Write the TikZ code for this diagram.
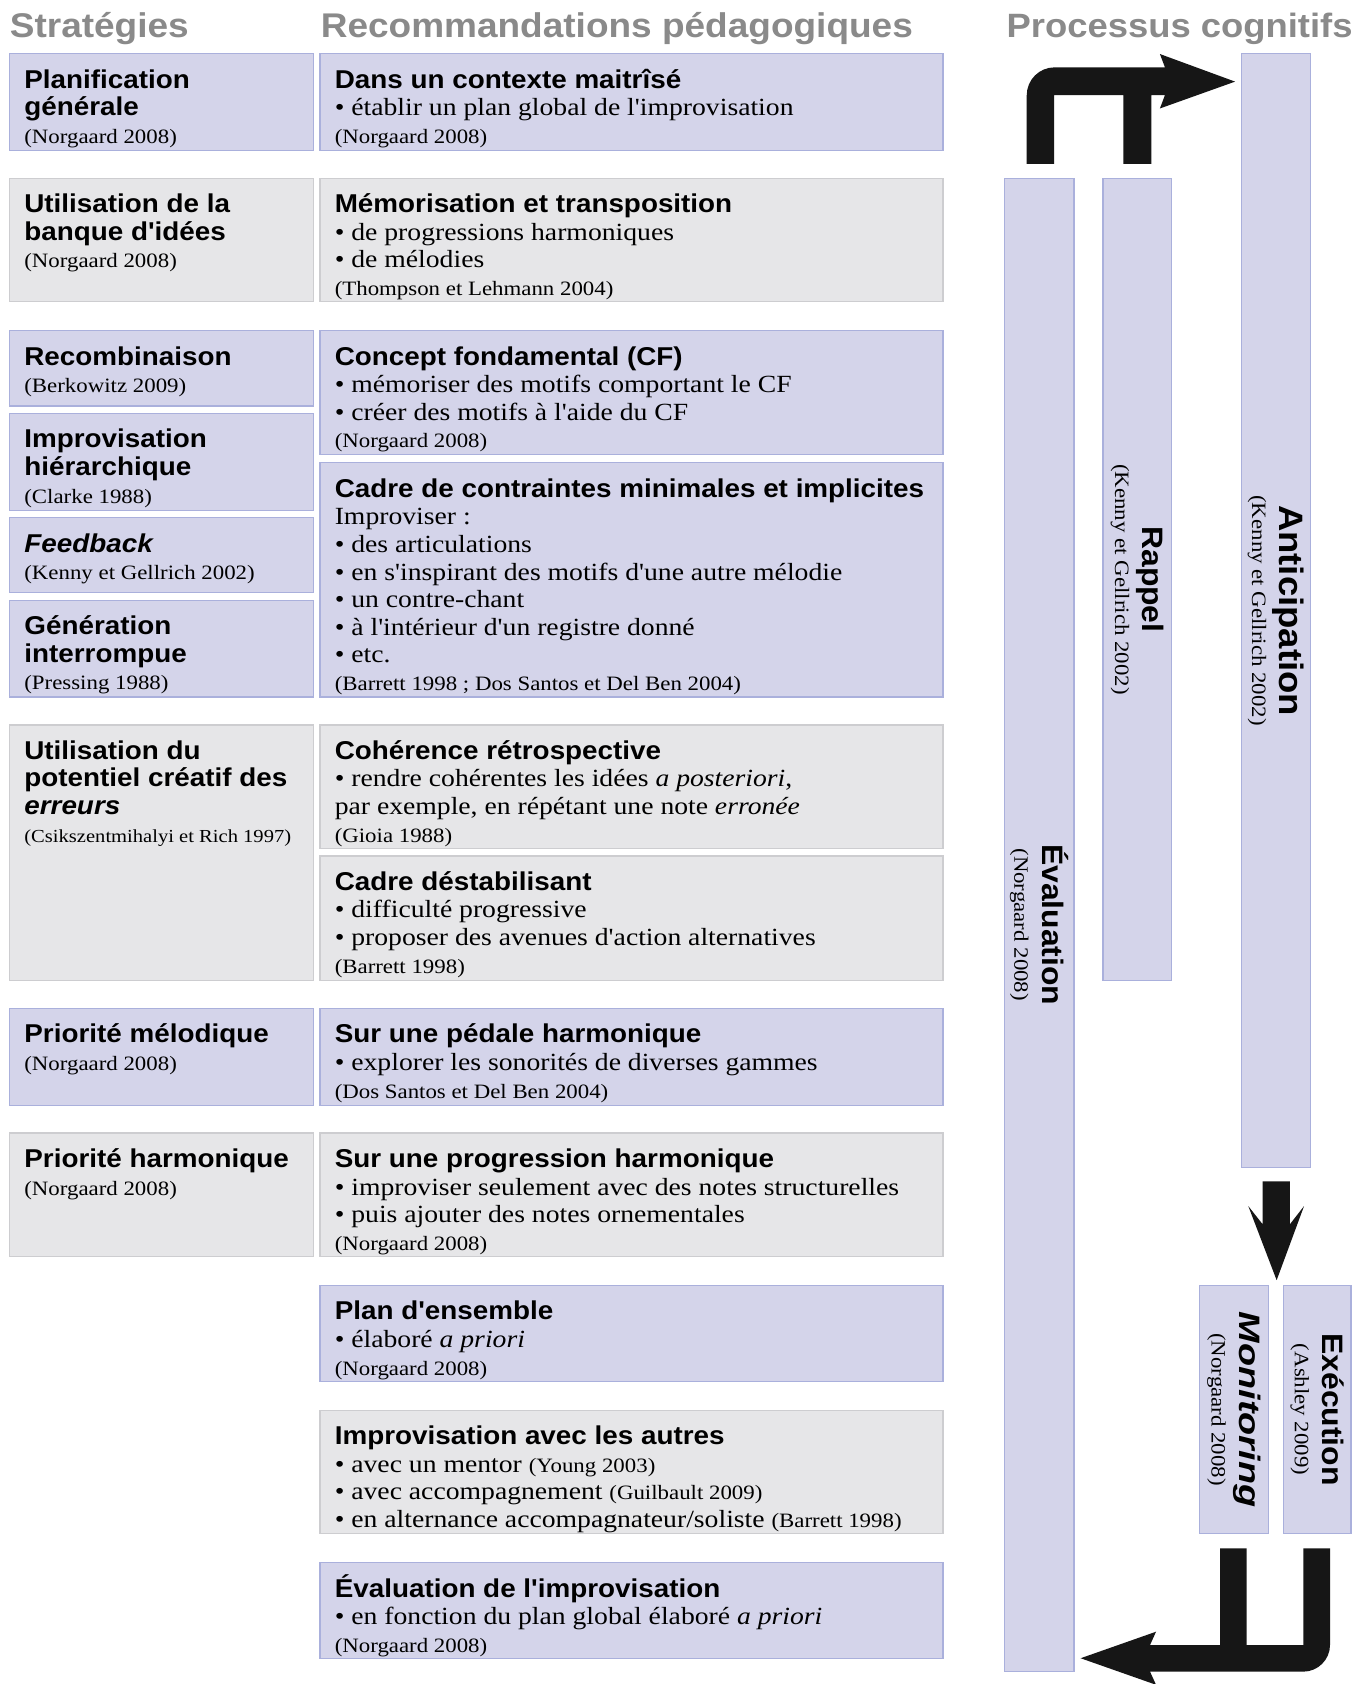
\documentclass[tikz,border=0pt]{standalone}
\usepackage{fontspec}
\setmainfont{Liberation Serif}[FakeStretch=1.12,Ligatures=TeXOff]
\newfontfamily\hsf{Liberation Sans}[FakeStretch=1.08,Ligatures=TeXOff]
\newfontfamily\msf{Liberation Sans}[FakeStretch=1.28,Ligatures=TeXOff]
\definecolor{lavfill}{RGB}{212,212,234}
\definecolor{lavline}{RGB}{170,176,220}
\definecolor{gryfill}{RGB}{230,230,232}
\definecolor{gryline}{RGB}{205,205,208}
\definecolor{hdrgray}{RGB}{138,138,138}
\definecolor{arrowc}{RGB}{22,22,22}
\newcommand{\Ttl}[1]{{\hsf\bfseries\fontsize{24}{25.7}\selectfont #1}}
\newcommand{\Bdy}{\fontsize{23}{25.7}\selectfont}
\newcommand{\Cit}[1]{{\fontsize{19}{25.7}\selectfont #1}}
\newcommand{\VT}[2]{{\hsf\bfseries\fontsize{#1}{26}\selectfont #2}}
\newcommand{\Pb}[2]{\parbox[t]{#1pt}{\raggedright\lineskiplimit=-1000pt\lineskip=0pt\Bdy #2}}
\newcommand{\Pv}[2]{\parbox{#1pt}{\centering\lineskiplimit=-1000pt\lineskip=0pt\Bdy #2}}
\newcommand{\Bx}[5]{\path[#1] (#2,-#3) rectangle (#4,-#5);}
\begin{document}
\begin{tikzpicture}[x=1pt,y=1pt,
  lav/.style={fill=lavfill,draw=lavline,line width=1.1pt},
  gry/.style={fill=gryfill,draw=gryline,line width=1.1pt},
  txt/.style={anchor=base west,inner sep=0pt},
  hdr/.style={anchor=base west,inner sep=0pt,text=hdrgray,font=\hsf\bfseries\fontsize{31.9}{31.9}\selectfont},
  vlab/.style={rotate=-90,inner sep=0pt,anchor=center},
  blk/.style={fill=arrowc}]
\useasboundingbox[fill=white] (0,0) rectangle (1270,-1568);
% headers
\node[hdr] (h1) at (9,-35) {Stratégies};
\node[hdr] (h2) at (298.5,-35) {Recommandations pédagogiques};
\node[hdr,font=\hsf\bfseries\fontsize{31.4}{31.4}\selectfont] (h3) at (937,-35) {Processus cognitifs};
% column 1 boxes
\Bx{lav}{9}{50}{292}{140}
\Bx{gry}{9}{166}{292}{281}
\Bx{lav}{9}{308}{292}{378}
\Bx{lav}{9}{385}{292}{475}
\Bx{lav}{9}{482}{292}{552}
\Bx{lav}{9}{559}{292}{649}
\Bx{gry}{9}{675}{292}{913}
\Bx{lav}{9}{939}{292}{1029}
\Bx{gry}{9}{1055}{292}{1170}
% column 2 boxes
\Bx{lav}{298}{50}{878}{140}
\Bx{gry}{298}{166}{878}{281}
\Bx{lav}{298}{308}{878}{423}
\Bx{lav}{298}{431}{878}{649}
\Bx{gry}{298}{675}{878}{790}
\Bx{gry}{298}{797}{878}{913}
\Bx{lav}{298}{939}{878}{1029}
\Bx{gry}{298}{1055}{878}{1170}
\Bx{lav}{298}{1197}{878}{1286}
\Bx{gry}{298}{1313}{878}{1428}
\Bx{lav}{298}{1455}{878}{1544}
% column 3 bars
\Bx{lav}{935}{166}{1000}{1556}
\Bx{lav}{1027}{166}{1091}{913}
\Bx{lav}{1156}{50}{1220}{1087}
\Bx{lav}{1117}{1197}{1181}{1428}
\Bx{lav}{1195}{1197}{1258}{1428}
% column 1 texts
\node[txt] (s1) at (22.5,-82) {\Pb{268}{\Ttl{Planification\\générale}\\\Cit{(Norgaard 2008)}}};
\node[txt] (s2) at (22.5,-198) {\Pb{268}{\Ttl{Utilisation de la\\banque d'idées}\\\Cit{(Norgaard 2008)}}};
\node[txt] (s3) at (22.5,-340) {\Pb{268}{\Ttl{Recombinaison}\\\Cit{(Berkowitz 2009)}}};
\node[txt] (s4) at (22.5,-417) {\Pb{268}{\Ttl{Improvisation\\hiérarchique}\\\Cit{(Clarke 1988)}}};
\node[txt] (s5) at (22.5,-514) {\Pb{268}{\Ttl{\itshape Feedback}\\\Cit{(Kenny et Gellrich 2002)}}};
\node[txt] (s6) at (22.5,-591) {\Pb{268}{\Ttl{Génération\\interrompue}\\\Cit{(Pressing 1988)}}};
\node[txt] (s7) at (22.5,-707) {\Pb{268}{\Ttl{Utilisation du\\potentiel créatif des\\{\itshape erreurs}}\\{\fontsize{17.1}{25.7}\selectfont (Csikszentmihalyi et Rich 1997)}}};
\node[txt] (s8) at (22.5,-971) {\Pb{268}{\Ttl{Priorité mélodique}\\\Cit{(Norgaard 2008)}}};
\node[txt] (s9) at (22.5,-1087) {\Pb{268}{\Ttl{Priorité harmonique}\\\Cit{(Norgaard 2008)}}};
% column 2 texts
\node[txt] (r1) at (311.5,-82) {\Pb{562}{\Ttl{Dans un contexte maitrîsé}\\• établir un plan global de l'improvisation\\\Cit{(Norgaard 2008)}}};
\node[txt] (r2) at (311.5,-198) {\Pb{562}{\Ttl{Mémorisation et transposition}\\• de progressions harmoniques\\• de mélodies\\\Cit{(Thompson et Lehmann 2004)}}};
\node[txt] (r3) at (311.5,-340) {\Pb{562}{\Ttl{Concept fondamental (CF)}\\• mémoriser des motifs comportant le CF\\• créer des motifs à l'aide du CF\\\Cit{(Norgaard 2008)}}};
\node[txt] (r4) at (311.5,-463) {\Pb{562}{\Ttl{Cadre de contraintes minimales et implicites}\\Improviser :\\• des articulations\\• en s'inspirant des motifs d'une autre mélodie\\• un contre-chant\\• à l'intérieur d'un registre donné\\• etc.\\\Cit{(Barrett 1998 ; Dos Santos et Del Ben 2004)}}};
\node[txt] (r5) at (311.5,-707) {\Pb{562}{\Ttl{Cohérence rétrospective}\\• rendre cohérentes les idées {\itshape a posteriori},\\par exemple, en répétant une note {\itshape erronée}\\\Cit{(Gioia 1988)}}};
\node[txt] (r6) at (311.5,-829) {\Pb{562}{\Ttl{Cadre déstabilisant}\\• difficulté progressive\\• proposer des avenues d'action alternatives\\\Cit{(Barrett 1998)}}};
\node[txt] (r7) at (311.5,-971) {\Pb{562}{\Ttl{Sur une pédale harmonique}\\• explorer les sonorités de diverses gammes\\\Cit{(Dos Santos et Del Ben 2004)}}};
\node[txt] (r8) at (311.5,-1087) {\Pb{562}{\Ttl{Sur une progression harmonique}\\• improviser seulement avec des notes structurelles\\• puis ajouter des notes ornementales\\\Cit{(Norgaard 2008)}}};
\node[txt] (r9) at (311.5,-1229) {\Pb{562}{\Ttl{Plan d'ensemble}\\• élaboré {\itshape a priori}\\\Cit{(Norgaard 2008)}}};
\node[txt] (r10) at (311.5,-1345) {\Pb{562}{\Ttl{Improvisation avec les autres}\\• avec un mentor \Cit{(Young 2003)}\\• avec accompagnement \Cit{(Guilbault 2009)}\\• en alternance accompagnateur/soliste \Cit{(Barrett 1998)}}};
\node[txt] (r11) at (311.5,-1487) {\Pb{562}{\Ttl{Évaluation de l'improvisation}\\• en fonction du plan global élaboré {\itshape a priori}\\\Cit{(Norgaard 2008)}}};
% vertical labels
\node[vlab] (pEval) at (967.5,-861) {\Pv{400}{\VT{27.5}{Évaluation}\\\Cit{(Norgaard 2008)}}};
\node[vlab] (pRapp) at (1059,-539.5) {\Pv{400}{\VT{27.5}{Rappel}\\\Cit{(Kenny et Gellrich 2002)}}};
\node[vlab] (pAnti) at (1188,-568.5) {\Pv{400}{\VT{31.5}{Anticipation}\\\Cit{(Kenny et Gellrich 2002)}}};
\node[vlab] (pMoni) at (1149,-1312.5) {\Pv{220}{{\msf\bfseries\itshape\fontsize{27.5}{26}\selectfont Monitoring}\\\Cit{(Norgaard 2008)}}};
\node[vlab] (pExec) at (1226.5,-1312.5) {\Pv{220}{\VT{27.5}{Exécution}\\\Cit{(Ashley 2009)}}};
% top arrow
\fill[blk] (956,-152.7) -- (956,-88.7) arc[start angle=180,end angle=90,radius=26]
  -- (1084.7,-62.7) -- (1080,-50.3) -- (1150,-76) -- (1080,-101) -- (1084.7,-88.5)
  -- (1072,-88.5) -- (1072,-152.7) -- (1046,-152.7) -- (1046,-88.5)
  -- (981.4,-88.5) -- (981.4,-152.7) -- cycle;
% middle arrow
\fill[blk] (1175.7,-1100) -- (1201,-1100) -- (1201,-1140) -- (1214.2,-1123)
  -- (1188.7,-1192) -- (1162.3,-1123) -- (1175.7,-1140) -- cycle;
% bottom arrow
\fill[blk] (1213.5,-1441.6) -- (1238.4,-1441.6) -- (1238.4,-1531.5)
  arc[start angle=0,end angle=-90,radius=25] -- (1070.8,-1556.5) -- (1076.4,-1568.7)
  -- (1006.2,-1544) -- (1076.4,-1519.3) -- (1070.8,-1531.7) -- (1136,-1531.7)
  -- (1136,-1441.6) -- (1160.8,-1441.6) -- (1160.8,-1531.7) -- (1213.5,-1531.7) -- cycle;
\end{tikzpicture}
\end{document}
